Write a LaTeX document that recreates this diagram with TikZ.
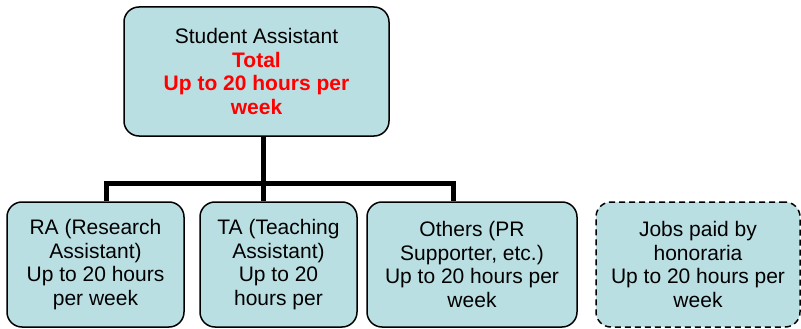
\documentclass[tikz,border=0pt]{standalone}
\usepackage{fontspec}
\setmainfont{Liberation Sans}
\definecolor{boxblue}{RGB}{186,223,227}
\definecolor{totalred}{RGB}{255,0,0}
\begin{document}
\begin{tikzpicture}
      [x=1pt,y=-1pt,line join=miter,
      box node/.style={rectangle,rounded corners=15pt,fill=boxblue,draw,line width=1.5pt,
        align=center,inner sep=0pt,font=\fontsize{21}{23.5}\selectfont},
      bar/.style={line width=5pt}]
      \useasboundingbox (0,0) rectangle (801,329);
      \node[box node,minimum width=265pt,minimum height=129pt] (top) at (256.5,71.5)
        {Student Assistant\\\textcolor{totalred}{\bfseries Total}\\
         \textcolor{totalred}{\bfseries Up to 20 hours per}\\\textcolor{totalred}{\bfseries week}};
      \node[box node,minimum width=177pt,minimum height=125pt] (ra) at (95.5,264.5)
        {RA (Research\\Assistant)\\Up to 20 hours\\per week};
      \node[box node,minimum width=157pt,minimum height=125pt] (ta) at (278.5,264.5)
        {TA (Teaching\\Assistant)\\Up to 20\\hours per};
      \node[box node,minimum width=210pt,minimum height=125pt] (others) at (472,264.5)
        {Others (PR\\Supporter, etc.)\\Up to 20 hours per\\week};
      \node[box node,dashed,dash pattern=on 6pt off 4pt,minimum width=204pt,minimum height=125pt]
        (jobs) at (698,264.5)
        {Jobs paid by\\honoraria\\Up to 20 hours per\\week};
      % tree lines
      \draw[bar] ([xshift=6.5pt]top.south) -- ([xshift=-15.5pt]ta.north);
      \draw[bar] ([xshift=10.5pt]ra.north) -- ++(0,-18) -| ([xshift=-19pt]others.north);
    \end{tikzpicture}
\end{document}
